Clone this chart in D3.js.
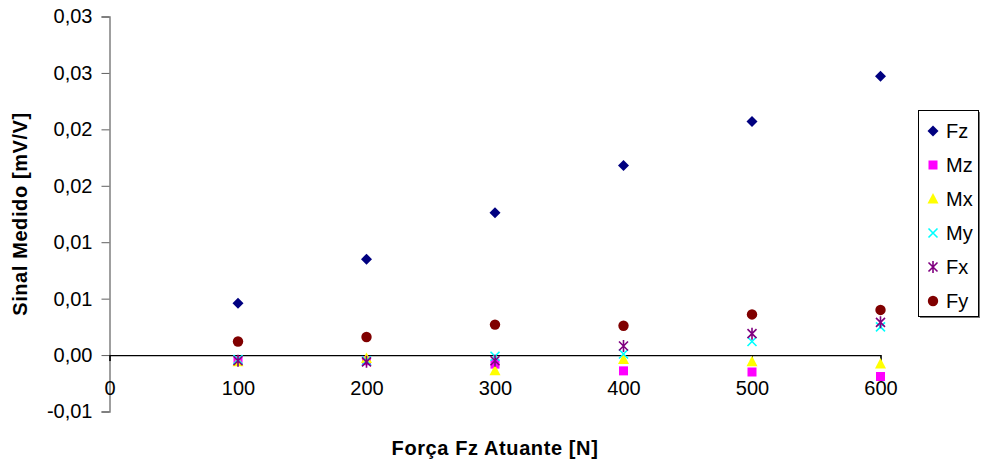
<!DOCTYPE html>
<html>
<head>
<meta charset="utf-8">
<script src="https://cdn.jsdelivr.net/npm/d3@7"></script>
<style>
  html, body { margin: 0; padding: 0; background: #fff; }
  svg { display: block; font-family: "Liberation Sans", Arial, sans-serif; }
</style>
</head>
<body>
<svg id="chart" width="981" height="464"></svg>
<script>
const forces = [100, 200, 300, 400, 500, 600];
const seriesNames = ["Fz", "Mz", "Mx", "My", "Fx", "Fy"];
const Fz = [0.0046, 0.0085, 0.0126, 0.0168, 0.0207, 0.0247];
const Mz = [-0.0005, -0.0005, -0.0008, -0.0014, -0.0015, -0.0019];
const Mx = [-0.0006, -0.0003, -0.0014, -0.0004, -0.0006, -0.0008];
const My = [-0.0004, -0.0005, -0.0001, 0.0001, 0.0012, 0.0025];
const Fx = [-0.0005, -0.0006, -0.0005, 0.0008, 0.0019, 0.0029];
const Fy = [0.0012, 0.0016, 0.0027, 0.0026, 0.0036, 0.0040];
const yTickValues = [-0.005, 0, 0.005, 0.01, 0.015, 0.02, 0.025, 0.03];
const yTickLabels = ["-0,01", "0,00", "0,01", "0,01", "0,02", "0,02", "0,03", "0,03"];
const xTickValues = [0, 100, 200, 300, 400, 500, 600];
const colors = ["#000080", "#FF00FF", "#FFFF00", "#00FFFF", "#800080", "#800000"];
const xTitle = "Força Fz Atuante [N]";
const yTitle = "Sinal Medido [mV/V]";

const seriesValues = [Fz, Mz, Mx, My, Fx, Fy];

const svg = d3.select("#chart");
const x = d3.scaleLinear().domain([0, 600]).range([109.5, 880.5]);
const y = d3.scaleLinear().domain([-0.005, 0.03]).range([411.5, 16.5]);

// Y axis
const yAxis = d3.axisLeft(y)
  .tickValues(yTickValues)
  .tickSize(8)
  .tickPadding(9)
  .tickFormat((d, i) => yTickLabels[i]);
const gy = svg.append("g").attr("transform", `translate(${x(0)},0)`).call(yAxis);
gy.select(".domain").attr("stroke", "#808080").attr("stroke-width", 1.5);
gy.selectAll(".tick line").attr("stroke", "#606060");
gy.selectAll(".tick text").attr("font-size", 20).attr("fill", "#000")
  .attr("font-family", "Liberation Sans, Arial, sans-serif");

// X axis at y = 0
const xAxis = d3.axisBottom(x)
  .tickValues(xTickValues)
  .tickSize(6)
  .tickPadding(20)
  .tickFormat(d3.format("d"));
const gx = svg.append("g").attr("transform", `translate(0,${y(0)})`).call(xAxis);
gx.select(".domain").attr("stroke", "#000").attr("stroke-width", 1.2);
gx.selectAll(".tick line").attr("stroke", "#000");
gx.selectAll(".tick text").attr("font-size", 20).attr("fill", "#000")
  .attr("font-family", "Liberation Sans, Arial, sans-serif");

// Titles
svg.append("text")
  .attr("x", 495).attr("y", 455)
  .attr("text-anchor", "middle")
  .attr("font-weight", "bold").attr("font-size", 20)
  .attr("letter-spacing", 0.6)
  .text(xTitle);
svg.append("text")
  .attr("transform", "translate(27,214) rotate(-90)")
  .attr("text-anchor", "middle")
  .attr("font-weight", "bold").attr("font-size", 20)
  .attr("letter-spacing", 0.6)
  .text(yTitle);

// Marker drawers
function drawMarker(g, idx) {
  const c = colors[idx];
  switch (idx) {
    case 0: g.append("path").attr("d", "M0,-5.5L5.5,0L0,5.5L-5.5,0Z").attr("fill", c); break;
    case 1: g.append("rect").attr("x", -4.5).attr("y", -4.5).attr("width", 9).attr("height", 9).attr("fill", c); break;
    case 2: g.append("path").attr("d", "M0,-6L5.5,4.5L-5.5,4.5Z").attr("fill", c); break;
    case 3: g.append("path").attr("d", "M-4.5,-4.5L4.5,4.5M-4.5,4.5L4.5,-4.5").attr("stroke", c).attr("stroke-width", 1.6).attr("fill", "none"); break;
    case 4: g.append("path").attr("d", "M-4.5,-4.5L4.5,4.5M-4.5,4.5L4.5,-4.5M0,-6L0,6").attr("stroke", c).attr("stroke-width", 1.6).attr("fill", "none"); break;
    case 5: g.append("circle").attr("r", 5.2).attr("fill", c); break;
  }
}

// Points
seriesValues.forEach((vals, si) => {
  const g = svg.append("g").attr("class", "series-" + seriesNames[si]);
  vals.forEach((v, i) => {
    const m = g.append("g").attr("transform", `translate(${x(forces[i])},${y(v)})`);
    drawMarker(m, si);
  });
});

// Legend
const lg = svg.append("g").attr("transform", "translate(918,110)");
lg.append("rect").attr("x", 2).attr("y", 2).attr("width", 60).attr("height", 206).attr("fill", "#777");
lg.append("rect").attr("x", 0.5).attr("y", 0.5).attr("width", 60).attr("height", 206)
  .attr("fill", "#fff").attr("stroke", "#000").attr("stroke-width", 1);
seriesNames.forEach((name, i) => {
  const cy = 21 + i * 34;
  const m = lg.append("g").attr("transform", `translate(15,${cy})`);
  drawMarker(m, i);
  lg.append("text").attr("x", 28).attr("y", cy + 7)
    .attr("font-size", 20).attr("fill", "#000").text(name);
});
</script>
</body>
</html>
